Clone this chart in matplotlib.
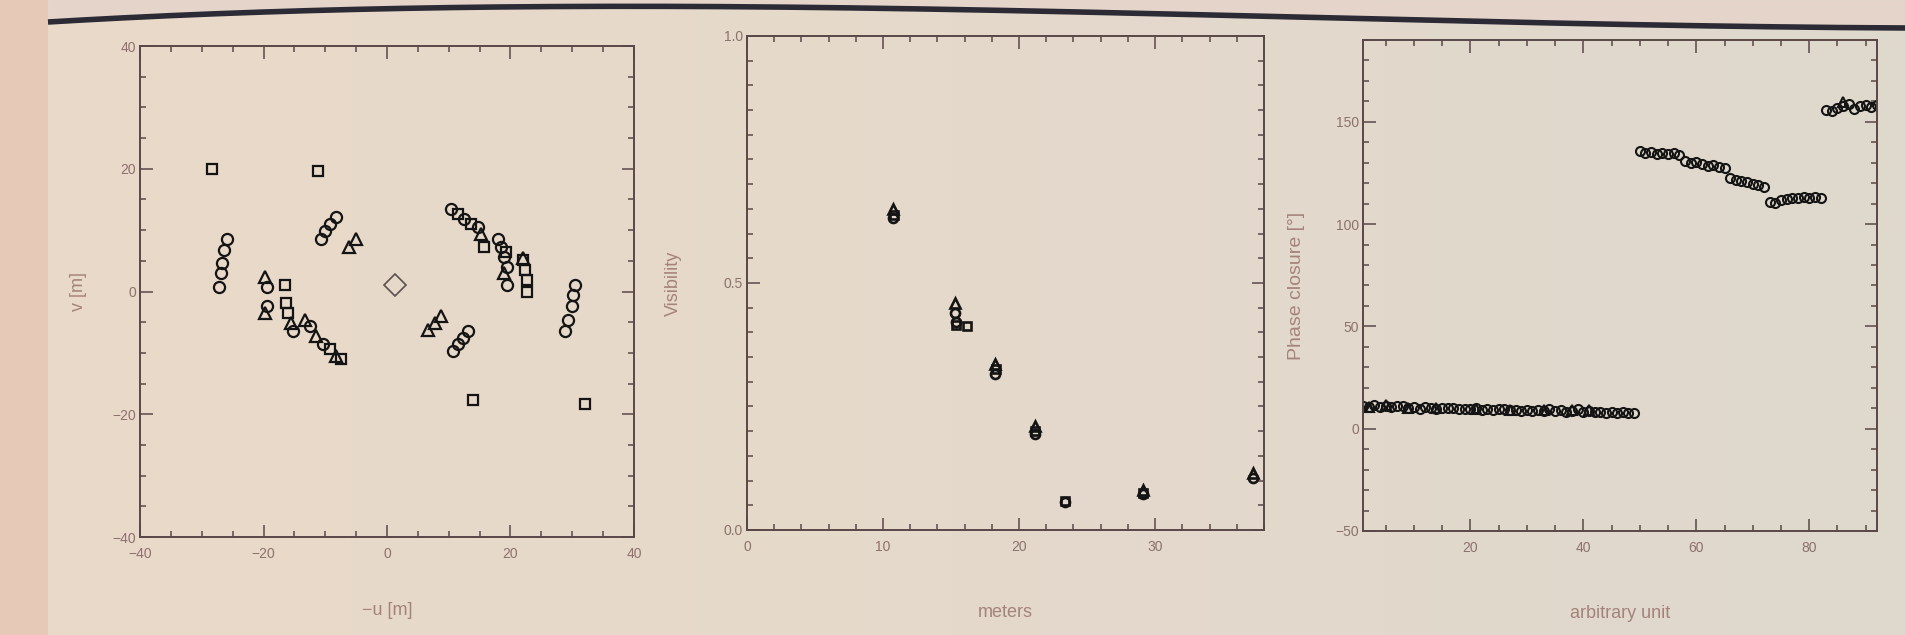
import numpy as np
import matplotlib
matplotlib.use('Agg')
import matplotlib.pyplot as plt
from matplotlib.ticker import MultipleLocator, FormatStrFormatter

plt.rcParams['font.family'] = ['Liberation Sans Narrow', 'Liberation Sans', 'DejaVu Sans']

# --- uv coverage (left panel) ---
circ_u = [-25.9, -26.4, -26.7, -26.9, -27.2, 30.4, 30.1, 29.9, 29.3, 28.8,
          -8.3, -9.3, -10.1, -10.7, 13.1, 12.3, 11.5, 10.7, 17.9, 18.4,
          18.9, 19.5, 19.5, -19.5, -19.5, -15.2, -12.5, -10.4, 10.4, 12.5, 14.7]
circ_v = [8.6, 6.7, 4.6, 3.0, 0.8, 1.1, -0.5, -2.4, -4.6, -6.5,
          12.1, 11.0, 9.9, 8.6, -6.5, -7.5, -8.6, -9.7, 8.6, 7.3,
          5.6, 4.0, 1.1, 0.8, -2.4, -6.5, -5.6, -8.6, 13.4, 11.8, 10.5]
sq_u = [-28.4, -11.2, 13.9, 32.0, 15.7, 22.1, 22.4, 22.7, 22.7, -16.5,
        -16.3, -16.0, 11.5, 13.6, -9.3, -7.5, 19.2]
sq_v = [20.0, 19.7, -17.7, -18.3, 7.3, 5.1, 3.5, 1.9, 0.0, 1.1,
        -1.9, -3.5, 12.6, 11.0, -9.4, -11.0, 6.5]
tri_u = [-5.1, -6.1, 8.8, 7.7, 6.7, -19.7, -19.7, -15.5, -13.3, -11.5,
         -8.3, 15.2, 22.1, 18.9]
tri_v = [8.6, 7.3, -4.0, -5.1, -6.2, 2.4, -3.5, -5.1, -4.6, -7.3,
         -10.5, 9.4, 5.5, 3.0]
dia_u = [1.3]
dia_v = [1.1]

# --- visibility vs baseline (middle panel) ---
vis_tri_x = [10.7, 15.3, 18.2, 21.2, 29.1, 37.2]
vis_tri_y = [0.650, 0.460, 0.335, 0.210, 0.080, 0.115]
vis_circ_x = [10.7, 15.3, 15.4, 18.2, 21.2, 23.4, 29.1, 37.2]
vis_circ_y = [0.632, 0.440, 0.420, 0.315, 0.195, 0.057, 0.072, 0.105]
vis_sq_x = [10.8, 15.4, 16.2, 18.3, 21.2, 23.4, 29.1]
vis_sq_y = [0.638, 0.415, 0.413, 0.325, 0.200, 0.058, 0.075]

# --- phase closure (right panel) ---
pc_x = [1, 2, 3, 4, 5, 6, 7, 8, 9, 10, 11, 12, 13, 14, 15, 16, 17, 18, 19, 20,
        21, 22, 23, 24, 25, 26, 27, 28, 29, 30, 31, 32, 33, 34, 35, 36, 37, 38,
        39, 40, 41, 42, 43, 44, 45, 46, 47, 48, 49,
        50, 51, 52, 53, 54, 55, 56, 57, 58, 59, 60, 61, 62, 63, 64, 65, 66, 67,
        68, 69, 70, 71, 72, 73, 74, 75, 76, 77, 78, 79, 80, 81, 82,
        83, 84, 85, 86, 87, 88, 89, 90, 91, 92]
pc_y = [11.2, 10.8, 11.5, 10.6, 11.0, 10.4, 10.9, 11.3, 10.2, 10.7, 9.8, 10.5,
        10.1, 9.6, 10.3, 9.9, 10.0, 9.4, 9.8, 9.5, 9.9, 9.2, 9.6, 9.0, 9.4, 9.7,
        8.9, 9.3, 8.8, 9.1, 8.6, 9.0, 8.7, 9.4, 8.5, 8.9, 8.3, 8.8, 9.6, 8.2,
        8.6, 8.0, 8.4, 7.9, 8.1, 7.8, 8.2, 7.7, 7.9,
        135.5, 134.8, 135.2, 134.5, 135.0, 134.2, 134.6, 133.9,
        131.0, 129.8, 130.4, 129.2, 128.6, 129.0, 127.8, 127.2,
        122.5, 121.6, 121.0, 120.4, 119.6, 119.0, 118.2,
        111.0, 110.2, 111.8, 112.5, 113.0, 112.6, 113.2, 112.8, 113.4, 112.9,
        156.0, 155.2, 156.8, 157.5, 158.8, 156.5, 157.9, 158.4, 157.2, 158.0]
pc_tri_x = [2, 5, 9, 14, 21, 27, 33, 38, 41, 86]
pc_tri_y = [10.5, 11.4, 10.0, 10.2, 9.6, 9.0, 9.2, 9.0, 8.9, 159.5]

W, H = 1905, 635
fig = plt.figure(figsize=(W / 100, H / 100), dpi=100)

# photographed poster background
bg = fig.add_axes([0, 0, 1, 1], zorder=-10)
grad = np.linspace(0, 1, 256)
c0 = np.array([234, 218, 201]) / 255.0
c1 = np.array([223, 216, 205]) / 255.0
img = c0[None, None, :] * (1 - grad[None, :, None]) + c1[None, None, :] * grad[None, :, None]
bg.imshow(img, extent=[0, W, H, 0], aspect='auto')
bg.fill_between([0, 48], [0, 0], [H, H], color='#e6c9b6', lw=0)
# poster top edge (smooth curve through a few points)
knots_x = [48, 300, 600, 900, 1300, 1905]
knots_y = [22, 11, 6, 9, 17, 28]
cs = np.polyfit(knots_x, knots_y, 3)
edge_x = np.linspace(48, W, 200)
edge_y = np.polyval(cs, edge_x)
bg.fill_between(edge_x, 0, edge_y, color='#e4d4c9', lw=0)
bg.plot(edge_x, edge_y, color='#2b2a35', lw=4, solid_capstyle='butt')
bg.set_xlim(0, W)
bg.set_ylim(H, 0)
bg.axis('off')

spine_col = '#5a4848'
tick_col = '#8c716c'
label_col = '#a4837a'
mk_col = '#141414'


def style(ax, major_x, minor_x, major_y, minor_y):
    ax.set_facecolor('none')
    for s in ax.spines.values():
        s.set_color(spine_col)
        s.set_linewidth(1.4)
    ax.xaxis.set_major_locator(MultipleLocator(major_x))
    ax.xaxis.set_minor_locator(MultipleLocator(minor_x))
    ax.yaxis.set_major_locator(MultipleLocator(major_y))
    ax.yaxis.set_minor_locator(MultipleLocator(minor_y))
    ax.tick_params(which='both', direction='in', top=True, right=True,
                   color=spine_col, width=1.1, labelcolor=tick_col,
                   labelsize=10)
    ax.tick_params(axis='x', pad=7)
    ax.tick_params(axis='y', pad=3)
    ax.tick_params(which='major', length=9)
    ax.tick_params(which='minor', length=4.5)


ax1 = fig.add_axes([0.0735, 0.1543, 0.2593, 0.7732])
kw = dict(ls='none', mfc='none', mec=mk_col, mew=1.6)
ax1.plot(circ_u, circ_v, marker='o', ms=8, **kw)
ax1.plot(sq_u, sq_v, marker='s', ms=7, **kw)
ax1.plot(tri_u, tri_v, marker='^', ms=8, **kw)
ax1.plot(dia_u, dia_v, marker='D', ms=11, ls='none', mfc='none', mec='#5a5050', mew=1.2)
ax1.set_xlim(-40, 40)
ax1.set_ylim(-40, 40)
style(ax1, 20, 5, 20, 5)
ax1.set_xlabel('\u2212u [m]', color=label_col, fontsize=13, labelpad=30)
ax1.set_ylabel('v [m]', color=label_col, fontsize=13, labelpad=18)

ax2 = fig.add_axes([0.3921, 0.1654, 0.2714, 0.778])
kw2 = dict(ls='none', mfc='none', mec=mk_col, mew=1.9)
ax2.plot(vis_circ_x, vis_circ_y, marker='o', ms=6.5, **kw2)
ax2.plot(vis_sq_x, vis_sq_y, marker='s', ms=6, **kw2)
ax2.plot(vis_tri_x, vis_tri_y, marker='^', ms=7, **kw2)
ax2.set_xlim(0, 38)
ax2.set_ylim(0, 1.0)
style(ax2, 10, 2, 0.5, 0.05)
ax2.yaxis.set_major_formatter(FormatStrFormatter('%.1f'))
ax2.set_xlabel('meters', color=label_col, fontsize=13, labelpad=36)
ax2.set_ylabel('Visibility', color=label_col, fontsize=13, labelpad=30)

ax3 = fig.add_axes([0.7155, 0.1638, 0.2698, 0.7732])
kw3 = dict(ls='none', mfc='none', mec=mk_col, mew=1.5)
ax3.plot(pc_x, pc_y, marker='o', ms=6.5, **kw3)
ax3.plot(pc_tri_x, pc_tri_y, marker='^', ms=6.5, **kw3)
ax3.set_xlim(1, 92)
ax3.set_ylim(-50, 190)
style(ax3, 20, 5, 50, 10)
ax3.set_xlabel('arbitrary unit', color=label_col, fontsize=13, labelpad=36)
ax3.set_ylabel('Phase closure [\u00b0]', color=label_col, fontsize=14, labelpad=22)

fig.savefig('out.png', dpi=100)
